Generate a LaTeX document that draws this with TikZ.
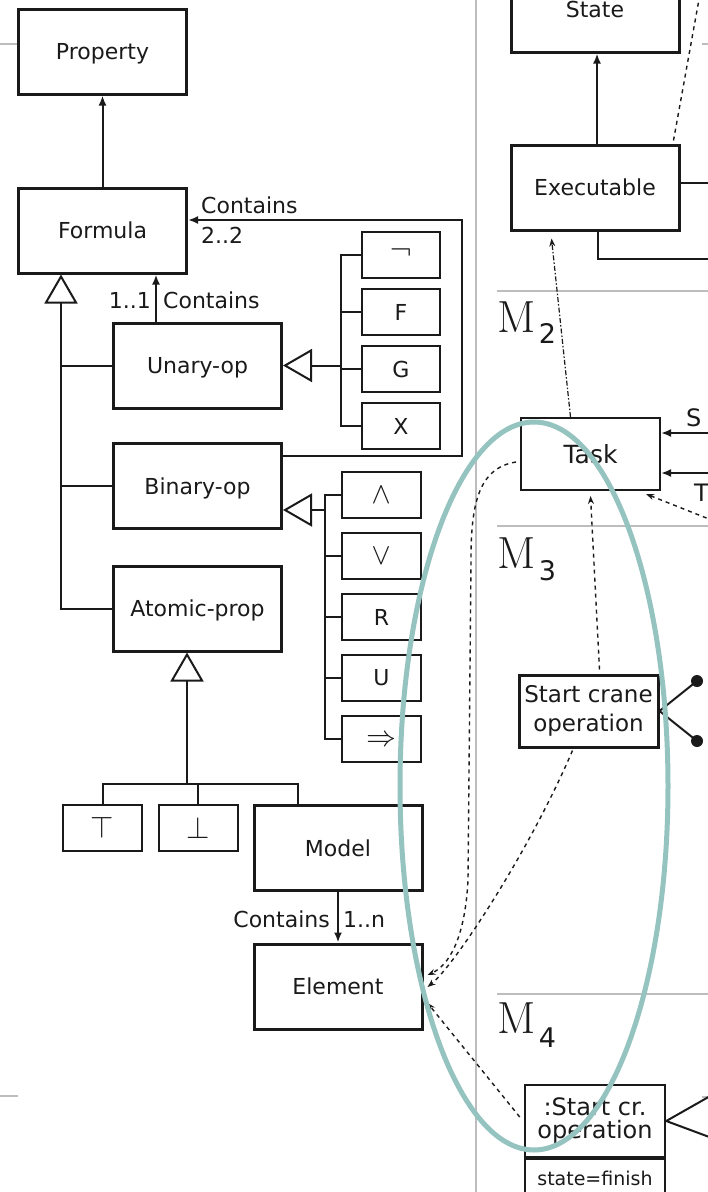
\documentclass[tikz,border=0pt]{standalone}
\usepackage{fontspec}
\usepackage{graphicx}
\newfontfamily\dvs{DejaVu Sans}
\newfontfamily\lmm{latinmodern-math.otf}
\usetikzlibrary{arrows.meta,calc}
\definecolor{ink}{HTML}{1A1A1A}
\definecolor{rule}{HTML}{BDBDBD}
\definecolor{halo}{HTML}{95C3C0}
\begin{document}
\begin{tikzpicture}[x=1pt,y=-1pt,
  font=\dvs\fontsize{22}{26}\selectfont,
  cls/.style={draw=ink,line width=3pt,minimum width=168pt,minimum height=85pt,
    inner sep=0pt,text=ink,text height=16pt,text depth=0pt,fill=white},
  lit/.style={draw=ink,line width=2pt,minimum width=79pt,minimum height=46pt,
    inner sep=0pt,text=ink,fill=white},
  opsym/.style={lit,font=\lmm\fontsize{30}{30}\selectfont},
  obj/.style={draw=ink,line width=2.5pt,minimum width=139pt,minimum height=72pt,
    inner sep=0pt,text=ink,align=center,fill=white},
  wire/.style={draw=ink,line width=2pt},
  assoc/.style={wire,-{Latex[length=10pt,width=8pt]}},
  gen/.style={wire,-{Triangle[open,length=29pt,width=33pt,line width=2pt]}},
  trace/.style={draw=ink,line width=1.4pt,dash pattern=on 4pt off 4pt,
    -{Stealth[length=8pt,width=6pt]}},
  tracedot/.style={draw=ink,line width=1.2pt,dash pattern=on 5pt off 2pt on 1.5pt off 2pt,
    -{Stealth[length=8pt,width=6pt]}},
  sep/.style={draw=rule,line width=1.6pt},
  lbl/.style={inner sep=0pt,text=ink},
  mlabel/.style={inner sep=0pt,anchor=base west,font=\rmfamily\fontsize{45}{45}\selectfont,text=ink},
  msub/.style={inner sep=0pt,anchor=base west,font=\dvs\fontsize{27}{27}\selectfont,text=ink}
]
\useasboundingbox (0,0) rectangle (708,1192);
\clip (0,0) rectangle (708,1192);

% ---- separators between the levels ----
\draw[sep,line width=2pt] (476,0) -- (476,1192);
\draw[sep] (497,291) -- (708,291);
\draw[sep] (497,526) -- (708,526);
\draw[sep] (497,994) -- (708,994);
\draw[sep] (0,44) -- (18,44);
\draw[sep] (0,1096) -- (18,1096);
\draw[sep] (702,44) -- (708,44);
\draw[sep] (702,1097) -- (708,1097);

\node[mlabel] (m2) at (497,332) {M};
\node[msub] (m2s) at ($(m2.base east)+(3,11)$) {2};
\node[mlabel] (m3) at (497,568) {M};
\node[msub] (m3s) at ($(m3.base east)+(3,12)$) {3};
\node[mlabel] (m4) at (497,1033) {M};
\node[msub] (m4s) at ($(m4.base east)+(3,14)$) {4};

% ---- property metamodel ----
\node[cls] (property) at (102.5,51.5) {Property};
\node[cls] (formula) at (102.5,230.5) {Formula};
\node[cls] (unary) at (197.5,365.5) {Unary-op};
\node[cls] (binary) at (197.5,486) {Binary-op};
\node[cls] (atomic) at (197.5,608.5) {Atomic-prop};
\node[cls] (model) at (338,848) {Model};
\node[cls] (element) at (338,986.5) {Element};

\node[opsym,minimum width=78pt,font=\lmm\fontsize{32}{32}\selectfont] (neg) at (401,255) {¬};
\node[lit,minimum width=78pt] (fop) at (401,312) {F};
\node[lit,minimum width=78pt] (gop) at (401,369) {G};
\node[lit,minimum width=78pt] (xop) at (401,426) {X};

\node[opsym] (andop) at (381.5,495) {∧};
\node[opsym] (orop) at (381.5,556) {∨};
\node[lit] (rop) at (381.5,617) {R};
\node[lit] (uop) at (381.5,678) {U};
\node[opsym] (impl) at (381.5,739) {⇒};

\node[opsym] (topc) at (102.5,828) {⊤};
\node[opsym] (botc) at (198,828) {⊥};

% Formula -> Property
\draw[assoc] (formula.north) -- (property.south);

% specialisations of Formula
\coordinate (fbus) at ($(formula.south west)+(44,0)$);
\draw[gen] (atomic.west) -| (fbus);
\draw[wire] (unary.west) -- (unary.west -| fbus);
\draw[wire] (binary.west) -- (binary.west -| fbus);

% Unary-op contains one formula
\coordinate (uc) at ($(unary.north west)+(44,0)$);
\draw[assoc] (uc) -- (uc |- formula.south);
\node[lbl,anchor=base east] (l11) at (151,308) {1..1};
\node[lbl,anchor=base west] (luc) at (163,308) {Contains};

% Binary-op contains two formulas
\draw[assoc] ($(binary.east)+(0,-30)$) -- ++(178.5,0) |- ($(formula.east)+(0,-10.5)$);
\node[lbl,anchor=base west] (lbc) at (201,213) {Contains};
\node[lbl,anchor=base west] (l22) at (201,243) {2..2};

% unary operators
\coordinate (ubus) at ($(neg.west)+(-20,0)$);
\draw[wire] (neg.west) -- (ubus) |- (xop.west);
\draw[wire] (fop.west) -- (fop.west -| ubus);
\draw[wire] (gop.west) -- (gop.west -| ubus);
\draw[gen] (ubus |- unary.east) -- (unary.east);

% binary operators
\coordinate (bbus) at ($(andop.west)+(-16,0)$);
\draw[wire] (andop.west) -- (bbus) |- (impl.west);
\draw[wire] (orop.west) -- (orop.west -| bbus);
\draw[wire] (rop.west) -- (rop.west -| bbus);
\draw[wire] (uop.west) -- (uop.west -| bbus);
\draw[gen] ($(bbus |- binary.east)+(0,24)$) -- ($(binary.east)+(0,24)$);

% atomic propositions
\coordinate (ajoin) at ($(atomic.south)+(-10.5,131.5)$);
\draw[gen] (ajoin) -- (ajoin |- atomic.south);
\draw[wire] (topc.north) |- ($(model.north west)+(45.5,-20)$) -- ($(model.north west)+(45.5,0)$);
\draw[wire] (botc.north) -- (botc.north |- ajoin);

% Model contains elements
\draw[assoc] (model.south) -- (element.north);
\node[lbl,anchor=base east] (lmc) at (330,927) {Contains};
\node[lbl,anchor=base west] (l1n) at (343,927) {1..n};

% ---- M2 level ----
\node[cls] (state) at (595,9.5) {State};
\node[cls] (exec) at (595,187.5) {Executable};
\draw[assoc] ($(exec.north)+(2,0)$) -- ($(state.south)+(2,0)$);
\draw[wire] ($(exec.east)+(0,-4.5)$) -- ++(40,0);
\draw[wire] ($(exec.south)+(3,0)$) -- ++(0,27) -- ++(130,0);
\draw[draw=ink,line width=1.4pt,dash pattern=on 4pt off 4pt]
  ($(exec.north east)+(-7,-3)$) -- ++(28,-155);

\node[obj,line width=2pt,font=\dvs\fontsize{25}{25}\selectfont,
  text height=18pt,text depth=0pt] (task) at (590.5,454) {Task};
\draw[tracedot] ($(task.north)+(-20,0)$) -- ($(exec.south west)+(42,7)$);
\draw[assoc] ($(task.east)+(60,-21)$) -- ($(task.east)+(0,-21)$);
\draw[assoc] ($(task.east)+(60,19)$) -- ($(task.east)+(0,19)$);
\node[lbl,anchor=base west,font=\dvs\fontsize{24}{24}\selectfont] (ls) at (686,426) {S};
\node[lbl,anchor=base west,font=\dvs\fontsize{24}{24}\selectfont] (lt) at (694,501) {T};
\draw[trace] (714,521) -- ($(task.south east)+(-15,3)$);

% ---- M3 level ----
\node[obj,line width=3pt,font=\dvs\fontsize{23}{29}\selectfont] (start) at (588.5,711)
  {Start crane\\operation};
\draw[trace] ($(start.north)+(11,-4)$) -- ($(task.south)+(0,5)$);
\coordinate (dup) at (697,681);
\coordinate (ddn) at (697,741);
\draw[wire] (dup) -- (start.east) -- (ddn);
\fill[ink] (dup) circle (6pt);
\fill[ink] (ddn) circle (6pt);

% ---- M4 level ----
\node[obj,minimum width=140pt,font=\dvs\fontsize{24}{23}\selectfont] (sc) at (595,1121)
  {:Start cr.\\operation};
\node[draw=ink,line width=2.5pt,minimum width=140pt,minimum height=40pt,inner sep=0pt,
  anchor=north,font=\dvs\fontsize{19}{19}\selectfont,text height=14pt,text depth=0pt,
  text=ink] (scst) at ($(sc.south)+(0,-1.25)$) {state=finish};
\draw[wire] (712,1095) -- (sc.east) -- (712,1138);

% instance links down to Element
\draw[trace] ($(task.west)+(-4,8)$) .. controls (478,468) and (471,505) .. (471,560)
  -- (468,880) .. controls (465,940) and (448,966) .. ($(element.east)+(4,-11.5)$);
\draw[trace] ($(start.south)+(-16,2)$) .. controls (530,850) and (455,965)
  .. ($(element.east)+(4,0.5)$);
\draw[trace] ($(sc.west)+(-4,-4)$) -- ($(element.east)+(4,16.5)$);

% highlighted group
\draw[halo,line width=5pt] (534,786) ellipse [x radius=134, y radius=364];
\end{tikzpicture}
\end{document}
